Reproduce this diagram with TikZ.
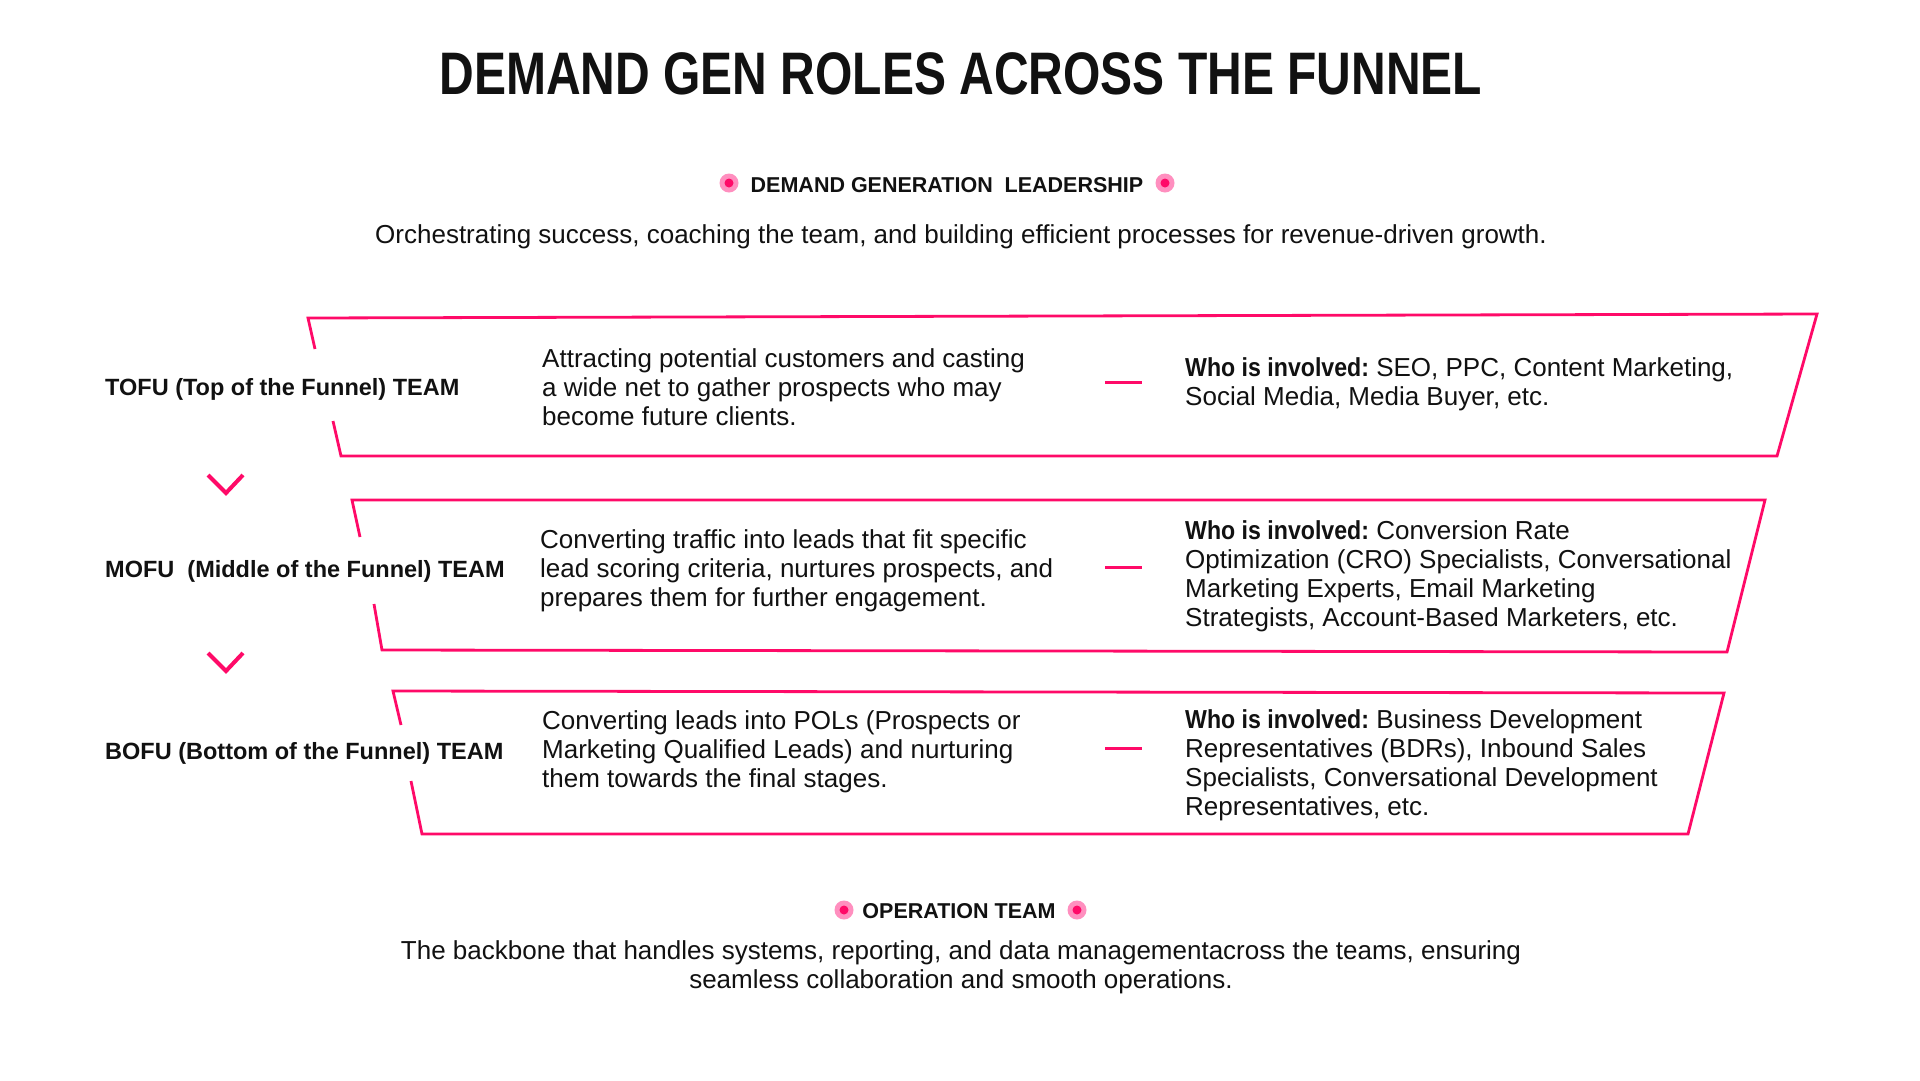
\documentclass[tikz,border=0pt]{standalone}
\usepackage{fontspec}
\usepackage{graphicx}
\setmainfont{Liberation Sans}

\definecolor{funnelpink}{HTML}{FF0A68}
\definecolor{dotpink}{HTML}{FF8FBF}
\definecolor{inkblack}{HTML}{111111}

\newcommand{\txttitle}{\fontsize{60}{60}\selectfont\bfseries}
\newcommand{\txthead}{\fontsize{21.5}{24}\selectfont\bfseries}
\newcommand{\txtlabel}{\fontsize{23.5}{28}\selectfont\bfseries}
\newcommand{\txtbody}{\fontsize{26}{29}\selectfont}
\newcommand{\whoinv}{\scalebox{0.89}[1]{\textbf{Who is involved:}}}

\tikzstyle{edge} = [draw=funnelpink, line width=2.8pt, line join=miter]
\tikzstyle{chev} = [draw=funnelpink, line width=4pt]
\tikzstyle{dashmark} = [draw=funnelpink, line width=3pt]
\tikzstyle{dotout} = [circle, fill=dotpink, inner sep=0pt, minimum size=19pt]
\tikzstyle{dotin} = [circle, fill=funnelpink, inner sep=0pt, minimum size=9pt]
\tikzstyle{maintitle} = [anchor=base, inner sep=0pt, font=\txttitle]
\tikzstyle{headtxt} = [anchor=base, inner sep=0pt, font=\txthead]
\tikzstyle{teamlbl} = [anchor=base west, inner sep=0pt, font=\txtlabel]
\tikzstyle{bodytxt} = [anchor=north west, inner sep=0pt, align=left, font=\txtbody]

\begin{document}
\begin{tikzpicture}[x=1pt, y=-1pt, text=inkblack]
      \useasboundingbox[fill=white] (0,0) rectangle (1920,1080);

      \node[maintitle] (ttl) at (961,94) {\scalebox{0.8}[1]{DEMAND GEN ROLES ACROSS THE FUNNEL}};

      \node[headtxt] (lead) at (947,192) {DEMAND GENERATION~~LEADERSHIP};
      \node[dotout] (ld1) at (729,183) {};
      \node[dotin] at (ld1) {};
      \node[dotout] (ld2) at (1165,183) {};
      \node[dotin] at (ld2) {};
      \node[bodytxt, anchor=base] (leaddesc) at (961,243) {Orchestrating success, coaching the team, and building efficient processes for revenue-driven growth.};

      \draw[edge] (315,349) -- (308,318) -- (1817,314) -- (1777,456) -- (341,456) -- (333,421);
      \draw[edge] (360,537) -- (352,500) -- (1765,500) -- (1727,652) -- (382,650) -- (374,604);
      \draw[edge] (401,725) -- (393,691) -- (1724,693) -- (1688,834) -- (422,834) -- (411,781);

      \draw[chev] (208,475) -- (226,493) -- (243,475);
      \draw[chev] (208,653) -- (226,671) -- (243,653);

      \node[teamlbl] (tofu) at (105,395) {TOFU (Top of the Funnel) TEAM};
      \node[teamlbl] (mofu) at (105,577) {MOFU~~(Middle of the Funnel) TEAM};
      \node[teamlbl] (bofu) at (105,759) {BOFU (Bottom of the Funnel) TEAM};

      \node[bodytxt] (tofuwhat) at (542,348.5) {Attracting potential customers and casting\\a wide net to gather prospects who may\\become future clients.};
      \node[bodytxt] (mofuwhat) at (540,529.5) {Converting traffic into leads that fit specific\\lead scoring criteria, nurtures prospects, and\\prepares them for further engagement.};
      \node[bodytxt] (bofuwhat) at (542,710.5) {Converting leads into POLs (Prospects or\\Marketing Qualified Leads) and nurturing\\them towards the final stages.};

      \draw[dashmark] (1105,382) -- (1142,382);
      \draw[dashmark] (1105,567) -- (1142,567);
      \draw[dashmark] (1105,748) -- (1142,748);

      \node[bodytxt] (tofuwho) at (1185,357.5) {\whoinv{} SEO, PPC, Content Marketing,\\Social Media, Media Buyer, etc.};
      \node[bodytxt] (mofuwho) at (1185,520.5) {\whoinv{} Conversion Rate\\Optimization (CRO) Specialists, Conversational\\Marketing Experts, Email Marketing\\Strategists, Account-Based Marketers, etc.};
      \node[bodytxt] (bofuwho) at (1185,709.5) {\whoinv{} Business Development\\Representatives (BDRs), Inbound Sales\\Specialists, Conversational Development\\Representatives, etc.};

      \node[headtxt] (ops) at (959,918) {OPERATION TEAM};
      \node[dotout] (op1) at (844,910) {};
      \node[dotin] at (op1) {};
      \node[dotout] (op2) at (1077,910) {};
      \node[dotin] at (op2) {};
      \node[bodytxt, anchor=north, align=center] (opsdesc) at (961,940.5) {The backbone that handles systems, reporting, and data managementacross the teams, ensuring\\seamless collaboration and smooth operations.};
\end{tikzpicture}
\end{document}
